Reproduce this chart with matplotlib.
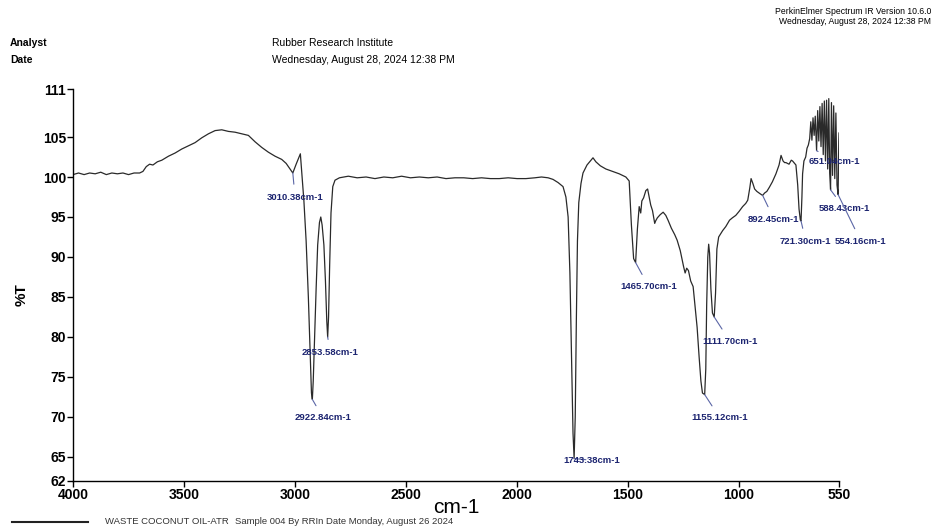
import matplotlib
matplotlib.use("Agg")
import matplotlib.pyplot as plt

# ---- data ----
wavenumber = [4000, 3975, 3950, 3925, 3900, 3875, 3850, 3825, 3800, 3775, 3750, 3725, 3700,
              3685, 3670, 3655, 3640, 3620, 3600, 3570, 3540, 3510, 3480, 3450, 3420, 3390,
              3360, 3330, 3300, 3270, 3240, 3210, 3180, 3150, 3120, 3090, 3060, 3040, 3020,
              3010, 2995, 2976, 2968, 2960, 2950, 2940, 2932, 2926, 2922, 2918, 2912, 2905,
              2898, 2890, 2884, 2878, 2870, 2863, 2857, 2853, 2849, 2844, 2838, 2830, 2820,
              2800, 2760, 2720, 2680, 2640, 2600, 2560, 2520, 2480, 2440, 2400, 2360, 2320,
              2280, 2240, 2200, 2160, 2120, 2080, 2040, 2000, 1960, 1920, 1890, 1860, 1838,
              1815, 1793, 1780, 1770, 1762, 1755, 1748, 1743, 1738, 1733, 1728, 1722, 1712,
              1703, 1685, 1670, 1658, 1645, 1625, 1600, 1570, 1540, 1510, 1495, 1485, 1475,
              1466, 1458, 1450, 1443, 1438, 1430, 1420, 1412, 1405, 1398, 1390, 1380, 1376,
              1368, 1355, 1342, 1330, 1320, 1305, 1290, 1279, 1265, 1250, 1243, 1236, 1228,
              1218, 1207, 1197, 1189, 1180, 1172, 1165, 1155, 1150, 1146, 1141, 1137, 1133,
              1127, 1120, 1112, 1106, 1100, 1092, 1074, 1060, 1043, 1030, 1015, 1000, 984,
              970, 961, 952, 946, 938, 930, 920, 905, 894, 885, 875, 864, 850, 834, 820, 811,
              802, 795, 789, 775, 765, 759, 750, 744, 736, 730, 724, 721, 717, 714, 708, 700,
              694, 688, 682, 677, 672, 667, 662, 657, 651, 646, 641, 636, 631, 626, 621, 616,
              611, 606, 601, 596, 592, 588, 584, 579, 574, 569, 564, 559, 554, 551, 550]
transmittance = [100.3, 100.5, 100.3, 100.5, 100.4, 100.6, 100.3, 100.5, 100.4, 100.5, 100.3, 100.5, 100.5,
                 100.7, 101.3, 101.6, 101.5, 101.9, 102.1, 102.6, 103.0, 103.5, 103.9, 104.3, 104.9, 105.4,
                 105.8, 105.9, 105.7, 105.6, 105.4, 105.2, 104.4, 103.7, 103.1, 102.6, 102.2, 101.7, 100.9,
                 100.5, 101.6, 102.9, 100.0, 97.0, 92.0, 85.0, 78.0, 73.0, 72.2, 74.5, 80.0, 86.0,
                 91.5, 94.3, 95.0, 94.0, 91.5, 87.0, 82.0, 80.0, 82.5, 89.0, 95.5, 98.8, 99.6,
                 99.9, 100.1, 99.9, 100.0, 99.8, 100.0, 99.9, 100.1, 99.9, 100.0, 99.9, 100.0, 99.8,
                 99.9, 99.9, 99.8, 99.9, 99.8, 99.8, 99.9, 99.8, 99.8, 99.9, 100.0, 99.9, 99.7,
                 99.3, 98.8, 97.5, 95.0, 88.0, 78.0, 68.0, 64.8, 70.0, 82.0, 92.0, 96.8, 99.2,
                 100.5, 101.5, 102.0, 102.4, 101.9, 101.4, 101.0, 100.7, 100.4, 100.0, 99.5, 94.0, 89.8,
                 89.3, 93.5, 96.3, 95.5, 97.0, 97.4, 98.3, 98.5, 97.5, 96.5, 95.8, 94.2, 94.5,
                 94.9, 95.3, 95.6, 95.2, 94.6, 93.6, 92.8, 92.1, 90.8, 88.8, 88.0, 88.6, 88.3,
                 87.0, 86.3, 83.5, 81.2, 77.5, 74.5, 73.0, 72.8, 76.0, 84.0, 90.0, 91.6, 90.5,
                 86.0, 83.0, 82.5, 85.5, 91.0, 92.5, 93.3, 93.8, 94.6, 94.9, 95.2, 95.7, 96.3,
                 96.7, 97.1, 98.6, 99.8, 99.2, 98.5, 98.2, 97.9, 97.7, 98.0, 98.2, 98.7, 99.4, 100.4, 101.5, 102.7,
                 102.0, 101.8, 101.8, 101.6, 102.1, 102.0, 101.7, 101.5, 99.0, 96.0, 94.6, 94.5, 97.5, 100.4, 102.0, 102.5,
                 103.6, 104.0, 104.8, 106.9, 104.6, 107.4, 105.2, 107.6, 103.3, 108.3, 104.5, 108.8, 103.8, 109.2, 102.8, 109.5,
                 102.0, 109.6, 101.0, 109.8, 100.5, 98.4, 109.3, 100.2, 108.9, 99.8, 108.0, 99.0, 97.8, 104.5, 105.5]

peak_labels = ["3010.38cm-1", "2922.84cm-1", "2853.58cm-1", "1743.38cm-1", "1465.70cm-1",
               "1155.12cm-1", "1111.70cm-1", "892.45cm-1", "721.30cm-1", "651.04cm-1",
               "588.43cm-1", "554.16cm-1"]
peak_x = [3010, 2922, 2853, 1743, 1466, 1155, 1112, 894, 721, 651, 588, 554]
peak_y = [100.5, 72.2, 80.0, 64.8, 89.3, 72.8, 82.5, 97.7, 94.5, 103.3, 98.4, 97.8]
label_x = [3000, 2874, 2842, 1665, 1407, 1087, 1042, 843, 700, 572, 527, 452]
label_y = [97.5, 69.9, 78.1, 64.6, 86.3, 69.9, 79.5, 94.75, 92.0, 101.9, 96.1, 92.0]

xticks = [4000, 3500, 3000, 2500, 2000, 1500, 1000, 550]
yticks = [111, 105, 100, 95, 90, 85, 80, 75, 70, 65, 62]

arial = ['Liberation Sans', 'DejaVu Sans']

fig = plt.figure(figsize=(9.35, 5.32), dpi=100)
ax = fig.add_axes([73/935, 1-481/532, (839-73)/935, (481-89)/532])

ax.plot(wavenumber, transmittance, color='#2a2a2a', lw=0.9)
ax.set_xlim(4000, 550)
ax.set_ylim(62, 111)
ax.set_xticks(xticks)
ax.set_yticks(yticks)
ax.set_xticklabels([str(t) for t in xticks], family=arial, fontweight='bold', fontsize=10)
ax.set_yticklabels([str(t) for t in yticks], family=arial, fontweight='bold', fontsize=10)
ax.tick_params(direction='out', length=4, width=1, pad=1)
for s in ['top', 'right']:
    ax.spines[s].set_visible(False)
for s in ['left', 'bottom']:
    ax.spines[s].set_linewidth(1.0)

for lab, px_, py_, tx, ty in zip(peak_labels, peak_x, peak_y, label_x, label_y):
    ax.annotate(lab, xy=(px_, py_), xytext=(tx, ty), ha='center', va='center',
                family=arial, fontweight='bold', fontsize=6.8, color='#1c2470',
                annotation_clip=False,
                arrowprops=dict(arrowstyle='-', color='#5b66a6', lw=0.8, shrinkA=4, shrinkB=0))

ax.set_xlabel('cm-1', family=arial, fontsize=15, labelpad=-3)
fig.text(22/935, 1-295/532, '%T', rotation=90, ha='center', va='center',
         family=arial, fontweight='bold', fontsize=11)

# header
fig.text(10/935, 1-43/532, 'Analyst', family=arial, fontweight='bold', fontsize=7.5, va='center')
fig.text(10/935, 1-60/532, 'Date', family=arial, fontweight='bold', fontsize=7.5, va='center')
fig.text(272/935, 1-43/532, 'Rubber Research Institute', family=arial, fontsize=7.5, va='center')
fig.text(272/935, 1-60/532, 'Wednesday, August 28, 2024 12:38 PM', family=arial, fontsize=7.5, va='center')
fig.text(931/935, 1-12/532, 'PerkinElmer Spectrum IR Version 10.6.0', family=arial, fontsize=6.2,
         ha='right', va='center')
fig.text(931/935, 1-22/532, 'Wednesday, August 28, 2024 12:38 PM', family=arial, fontsize=6.2,
         ha='right', va='center')

# legend line
fig.add_artist(plt.Line2D([12/935, 88/935], [1-522/532, 1-522/532], color='#222222', lw=1.5))
fig.text(105/935, 1-522/532, 'WASTE COCONUT OIL-ATR', family=arial, fontsize=6.8, va='center', color='#333333')
fig.text(235/935, 1-522/532, 'Sample 004 By RRIn Date Monday, August 26 2024', family=arial, fontsize=6.8,
         va='center', color='#333333')

fig.savefig('out.png', dpi=100)
